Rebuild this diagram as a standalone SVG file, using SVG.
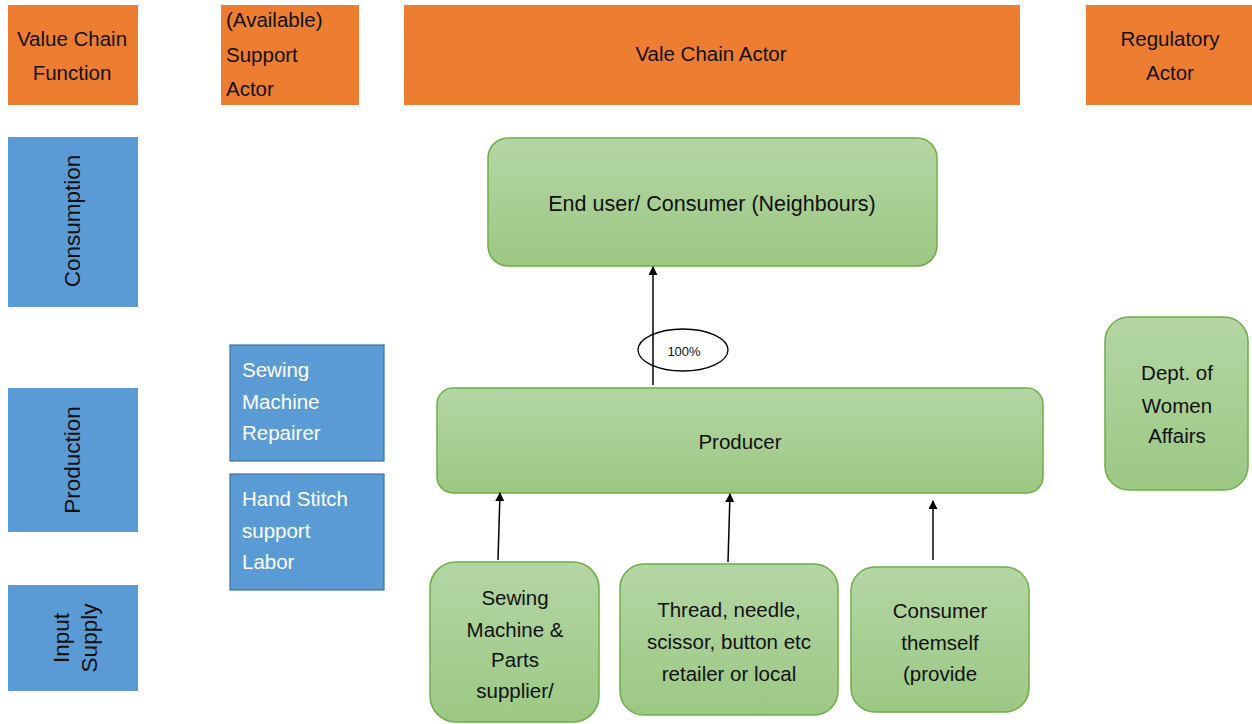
<svg xmlns="http://www.w3.org/2000/svg" width="1252" height="724" viewBox="0 0 1252 724">
  <defs>
    <linearGradient id="greenFill" x1="0" y1="0" x2="0" y2="1">
      <stop offset="0" stop-color="#b4d6a5"/>
      <stop offset="1" stop-color="#9cc883"/>
    </linearGradient>
    <marker id="arrowHead" viewBox="0 0 10 10" refX="9" refY="5" markerWidth="9" markerHeight="9" markerUnits="userSpaceOnUse" orient="auto">
      <path d="M0,0 L10,5 L0,10 z" fill="#000"/>
    </marker>
  </defs>
  <style>
    text { font-family: "Liberation Sans", Arial, sans-serif; font-size: 20.5px; fill: #111; }
    .hdr { fill: #ed7d31; }
    .fn { fill: #5b9bd5; }
    .rot { font-size: 22.5px; }
    .sup { fill: #5b9bd5; stroke: #41719c; stroke-width: 1.2; }
    .actor { fill: url(#greenFill); stroke: #70ad47; stroke-width: 1.5; }
    .c { text-anchor: middle; }
    .w { fill: #fff; }
    .link { stroke: #000; stroke-width: 1.5; fill: none; marker-end: url(#arrowHead); }
  </style>

  <rect width="1252" height="724" fill="#fff"/>

  <!-- column headers -->
  <g id="hdr-function">
    <rect class="hdr" x="8" y="5" width="130" height="100"/>
    <text class="c" x="72" y="46">Value Chain</text>
    <text class="c" x="72" y="80">Function</text>
  </g>
  <g id="hdr-support">
    <rect class="hdr" x="221" y="5" width="138" height="100"/>
    <text x="226" y="27">(Available)</text>
    <text x="226" y="62">Support</text>
    <text x="226" y="96">Actor</text>
  </g>
  <g id="hdr-actor">
    <rect class="hdr" x="404" y="5" width="616" height="100"/>
    <text class="c" x="711" y="61">Vale Chain Actor</text>
  </g>
  <g id="hdr-regulatory">
    <rect class="hdr" x="1086" y="5" width="166" height="100"/>
    <text class="c" x="1170" y="46">Regulatory</text>
    <text class="c" x="1170" y="80">Actor</text>
  </g>

  <!-- value chain functions -->
  <g id="fn-consumption">
    <rect class="fn" x="8" y="137" width="130" height="170"/>
    <text class="c rot" transform="translate(80,221) rotate(-90)">Consumption</text>
  </g>
  <g id="fn-production">
    <rect class="fn" x="8" y="388" width="130" height="144"/>
    <text class="c rot" transform="translate(80,460) rotate(-90)">Production</text>
  </g>
  <g id="fn-input">
    <rect class="fn" x="8" y="585" width="130" height="106"/>
    <text class="c rot" transform="translate(69,638) rotate(-90)">Input</text>
    <text class="c rot" transform="translate(97,638) rotate(-90)">Supply</text>
  </g>

  <!-- support actors -->
  <g id="sup-repairer">
    <rect class="sup" x="230" y="345" width="154" height="116"/>
    <text class="w" x="242" y="377">Sewing</text>
    <text class="w" x="242" y="409">Machine</text>
    <text class="w" x="242" y="440">Repairer</text>
  </g>
  <g id="sup-labor">
    <rect class="sup" x="230" y="474" width="154" height="116"/>
    <text class="w" x="242" y="506">Hand Stitch</text>
    <text class="w" x="242" y="538">support</text>
    <text class="w" x="242" y="569">Labor</text>
  </g>

  <!-- value chain actors -->
  <g id="end-user">
    <rect class="actor" x="488" y="138" width="449" height="128" rx="20"/>
    <text class="c" x="712" y="211" style="font-size:21.5px">End user/ Consumer (Neighbours)</text>
  </g>
  <g id="producer">
    <rect class="actor" x="437" y="388" width="606" height="105" rx="16"/>
    <text class="c" x="740" y="449">Producer</text>
  </g>
  <g id="machine-supplier">
    <rect class="actor" x="430" y="562" width="169" height="160" rx="26"/>
    <text class="c" x="515" y="605">Sewing</text>
    <text class="c" x="515" y="637">Machine &amp;</text>
    <text class="c" x="515" y="667">Parts</text>
    <text class="c" x="515" y="698">supplier/</text>
  </g>
  <g id="retailer">
    <rect class="actor" x="620" y="564" width="218" height="151" rx="24"/>
    <text class="c" x="729" y="617">Thread, needle,</text>
    <text class="c" x="729" y="649">scissor, button etc</text>
    <text class="c" x="729" y="681">retailer or local</text>
  </g>
  <g id="consumer-self">
    <rect class="actor" x="851" y="567" width="178" height="145" rx="24"/>
    <text class="c" x="940" y="618">Consumer</text>
    <text class="c" x="940" y="650">themself</text>
    <text class="c" x="940" y="681">(provide</text>
  </g>

  <!-- regulatory actor -->
  <g id="women-affairs">
    <rect class="actor" x="1105" y="317" width="143" height="173" rx="24"/>
    <text class="c" x="1177" y="380">Dept. of</text>
    <text class="c" x="1177" y="413">Women</text>
    <text class="c" x="1177" y="443">Affairs</text>
  </g>

  <!-- connectors -->
  <g id="connectors">
    <line class="link" x1="653" y1="385" x2="653" y2="267"/>
    <line class="link" x1="498" y1="560" x2="500" y2="493"/>
    <line class="link" x1="728" y1="562" x2="730" y2="494"/>
    <line class="link" x1="933" y1="560" x2="933" y2="501"/>
  </g>
  <g id="share-label">
    <ellipse cx="683" cy="350" rx="45" ry="21" fill="none" stroke="#000" stroke-width="1.3"/>
    <text class="c" x="684" y="356" style="font-size:13px">100%</text>
  </g>
</svg>
